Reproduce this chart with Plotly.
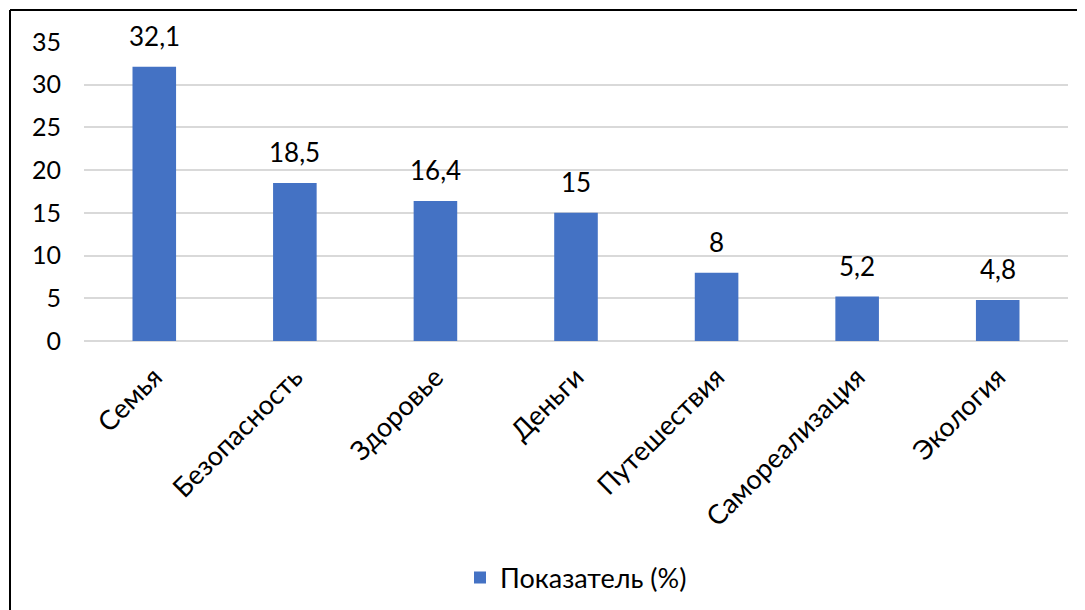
import plotly.graph_objects as go

categories = ["Семья", "Безопасность", "Здоровье", "Деньги", "Путешествия", "Самореализация", "Экология"]
values = [32.1, 18.5, 16.4, 15, 8, 5.2, 4.8]
labels = ["32,1", "18,5", "16,4", "15", "8", "5,2", "4,8"]
series_name = "Показатель (%)"

W, H = 1085, 610
OFF = 8  # page body margin
L, R, T = 84 - OFF, 17 + OFF, 42 - OFF
ph = 299
B = H - T - ph
pw = W - L - R

font = "Lato, 'Noto Sans', sans-serif"
FS = 25
FX = 27

fig = go.Figure(go.Bar(
    x=categories, y=values, name=series_name,
    marker=dict(color="#4472C4", line=dict(width=0)),
    width=0.31,
))

for c, v, t in zip(categories, values, labels):
    fig.add_annotation(x=c, y=v, text=t, showarrow=False, yanchor="bottom",
                       yshift=13, font=dict(size=26, color="#000000", family=font))

def px_x(p):
    return (p - OFF - L) / pw

def px_y(p):
    return (ph - (p - OFF - T)) / ph

fig.update_layout(
    width=W, height=H,
    margin=dict(l=L, r=R, t=T, b=B, autoexpand=False),
    paper_bgcolor="white", plot_bgcolor="white",
    font=dict(family=font, size=FS, color="#000000"),
    showlegend=True,
    legend=dict(orientation="h", x=0.5, xanchor="center",
                y=px_y(578), yanchor="middle",
                font=dict(size=FX, color="#000000"), itemwidth=30),
    xaxis=dict(tickangle=-45, showgrid=False, showline=False, ticks="",
               ticklabelstandoff=14,
               tickfont=dict(size=FX, color="#000000")),
    yaxis=dict(range=[0, 35], dtick=5, showgrid=True, gridcolor="#d9d9d9",
               gridwidth=1.5, zeroline=True, zerolinecolor="#d9d9d9", zerolinewidth=1.5,
               showline=False, ticks="", ticklabelstandoff=22,
               tickfont=dict(size=FS, color="#000000")),
    shapes=[
        dict(type="line", xref="paper", yref="paper",
             x0=px_x(10), x1=px_x(W + 20),
             y0=px_y(10), y1=px_y(10),
             line=dict(color="#000000", width=2)),
        dict(type="line", xref="paper", yref="paper",
             x0=px_x(10), x1=px_x(10),
             y0=px_y(10), y1=px_y(H + 20),
             line=dict(color="#000000", width=2)),
    ],
)

fig.write_html("out.html")
